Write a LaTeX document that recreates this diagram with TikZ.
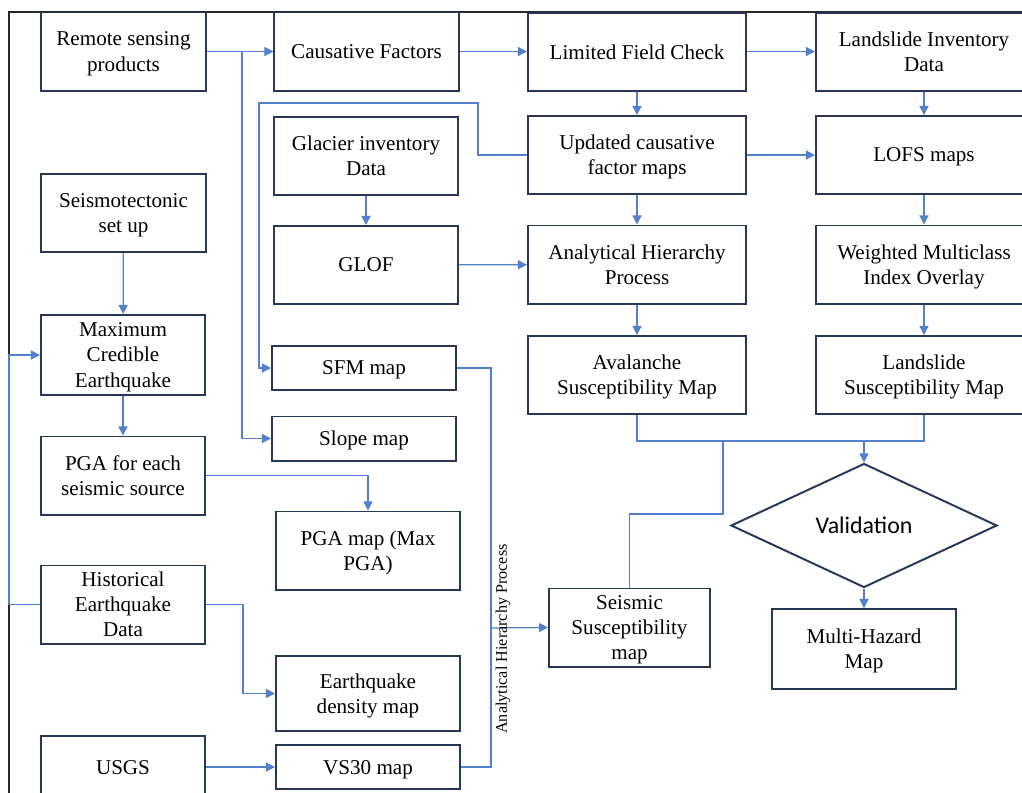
\documentclass[tikz,border=0pt]{standalone}
\usepackage{fontspec}
\setmainfont{Liberation Serif}
\newfontfamily\boxfont{Liberation Serif}
\newfontfamily\valfont{Carlito}
\usepackage{tikz}
\usetikzlibrary{arrows.meta, shapes.geometric, positioning, calc}
\definecolor{BoxNavy}{RGB}{40,55,88}
\definecolor{LinkBlue}{RGB}{82,128,204}
\definecolor{FrameGray}{RGB}{40,40,40}

\begin{document}
\begin{tikzpicture}[x=0.025cm,y=-0.025cm,
        bx/.style={draw=BoxNavy,line width=1.4pt,fill=white,align=center,
                   inner sep=2pt,minimum height=1.95cm,text depth=0pt,
                   font=\boxfont\fontsize{15}{17.8}\selectfont},
        wl/.style={minimum width=4.1cm},
        wm/.style={minimum width=4.6cm},
        wc/.style={minimum width=5.45cm},
        wr/.style={minimum width=5.4cm},
        thin/.style={minimum height=1.1cm},
        ln/.style={LinkBlue,line width=0.9pt},
        arr/.style={-{Triangle[length=6.5pt,width=6.5pt]},LinkBlue,line width=0.9pt}
      ]
        \useasboundingbox (0,0) rectangle (1022,792);
        \clip (0,0) rectangle (1022,792);
        % Frame
        \draw[FrameGray,line width=0.9pt] (9,800) -- (9,12) -- (1030,12);
        % Top row
        \node[bx,wl] (rs) at (123.5,51.5) {Remote sensing\\products};
        \node[bx,wm] (cf) at (366.5,51.5) {Causative Factors};
        \node[bx,wc] (lfc) at (637,52) {Limited Field Check};
        \node[bx,wr] (lid) at (924,52) {Landslide Inventory\\Data};
        % Second row
        \node[bx,wm] (gid) at (366,156) {Glacier inventory\\Data};
        \node[bx,wc] (ucf) at (637,155) {Updated causative\\factor maps};
        \node[bx,wr] (lofs) at (924,155) {LOFS maps};
        \node[bx,wl] (sts) at (123.5,213) {Seismotectonic\\set up};
        % Third row
        \node[bx,wm] (glof) at (366,265) {GLOF};
        \node[bx,wc] (ahp) at (637,264.5) {Analytical Hierarchy\\Process};
        \node[bx,wr] (wmio) at (924,264.5) {Weighted Multiclass\\Index Overlay};
        % Susceptibility row
        \node[bx,wl,minimum height=2cm] (mce) at (123,355) {Maximum\\Credible\\Earthquake};
        \node[bx,wm,thin] (sfm) at (364,368) {SFM map};
        \node[bx,wm,thin] (slope) at (364,438.5) {Slope map};
        \node[bx,wc] (ava) at (637,375) {Avalanche\\Susceptibility Map};
        \node[bx,wr] (lss) at (924,375) {Landslide\\Susceptibility Map};
        % Seismic part
        \node[bx,wl] (pga) at (123,475.5) {PGA for each\\seismic source};
        \node[bx,wm] (pgamap) at (368,550.5) {PGA map (Max\\PGA)};
        \node[bx,wl] (hist) at (123,604.5) {Historical\\Earthquake\\Data};
        \node[bx,wm,minimum height=1.87cm] (eqd) at (368,693.5) {Earthquake\\density map};
        \node[bx,wl,minimum height=1.6cm] (usgs) at (123,768) {USGS};
        \node[bx,wm,thin] (vs30) at (368,767) {VS30 map};
        \node[bx,minimum width=4.025cm] (seis) at (629.5,627.5) {Seismic\\Susceptibility\\map};
        % Validation
        \node[diamond,draw=BoxNavy,line width=1.4pt,fill=white,inner sep=0pt,
              minimum width=6.65cm,minimum height=3.1cm,
              font=\valfont\fontsize{17}{20}\selectfont] (val) at (864,525.5) {Validation};
        \node[bx,wm,minimum height=2cm] (mhm) at (864,649) {Multi-Hazard\\Map};
        % Connectors
        \coordinate (jrs) at (242,51.5);
        \draw[arr] (rs.east) -- (cf.west);
        \draw[arr] (jrs) |- (slope.west);
        \draw[arr] (cf.east) -- (lfc.west |- cf.east);
        \draw[arr] (lfc.east |- cf.east) -- (lid.west |- cf.east);
        \draw[arr] (lfc) -- (ucf);
        \draw[arr] (lid) -- (lofs);
        \draw[arr] (ucf) -- (lofs);
        \draw[arr] (ucf.west) -| (478,103) -| (259,368) -- (sfm.west);
        \draw[arr] (gid) -- (glof);
        \draw[arr] (glof) -- (ahp);
        \draw[arr] (ucf) -- (ahp);
        \draw[arr] (lofs) -- (wmio);
        \draw[arr] (ahp) -- (ava);
        \draw[arr] (wmio) -- (lss);
        \coordinate (jv) at (864,440);
        \coordinate (js) at (723,440);
        \draw[ln] (ava.south) -- ++(0,26) -| (lss.south);
        \draw[arr] (jv) -- (val.north);
        \draw[ln] (js) -- ++(0,74) -| (seis.north);
        \draw[arr] (val.south) -- (mhm.north);
        \draw[arr] (sts) -- (mce);
        \draw[arr] (mce) -- (pga);
        \draw[arr] (hist.west) -- ++(-31,0) |- (mce.west);
        \draw[arr] (pga.east) -| (pgamap.north);
        \draw[arr] (hist.east) -- ++(37,0) |- (eqd.west);
        \draw[arr] (usgs.east |- vs30.west) -- (vs30.west);
        % Seismic bus
        \coordinate (bus) at (491,628);
        \draw[ln] (sfm.east) -| (491,767) -- (vs30.east);
        \draw[arr] (bus) -- (seis.west);
        \node[rotate=90,font=\boxfont\fontsize{11.5}{13}\selectfont] (ahplbl) at (503,639) {Analytical Hierarchy Process};
      \end{tikzpicture}
\end{document}
